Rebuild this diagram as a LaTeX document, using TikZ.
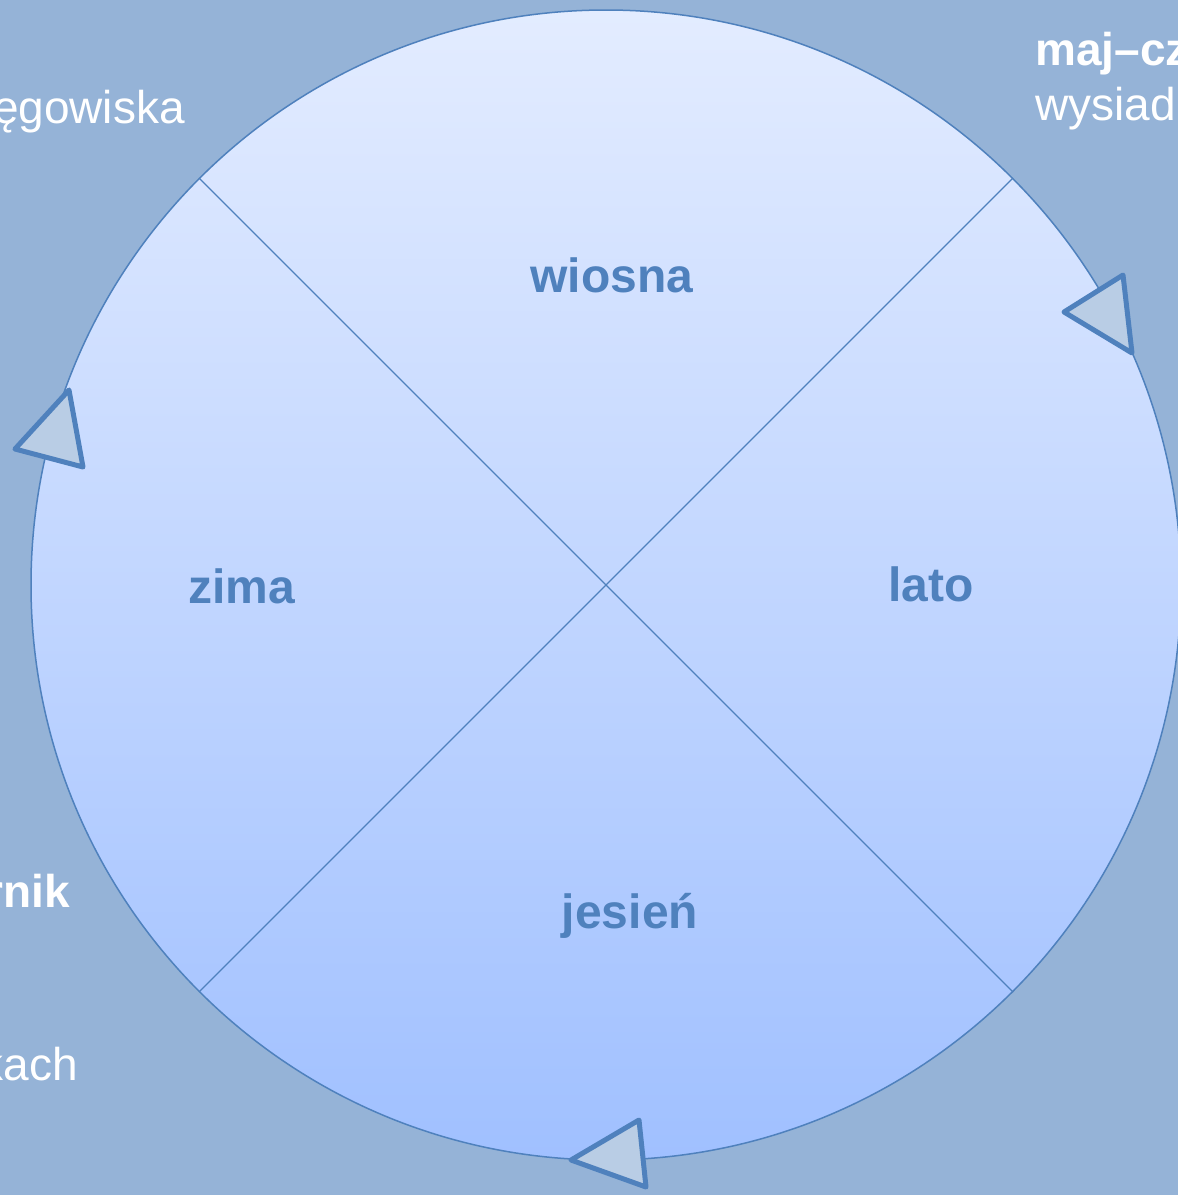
\documentclass[tikz,border=0pt]{standalone}
\usepackage{fontspec}
\setmainfont{Liberation Sans}
\usetikzlibrary{shadows}

\definecolor{slidebg}{RGB}{149,179,215}
\definecolor{accent}{RGB}{79,129,189}
\definecolor{wheeltop}{RGB}{227,236,255}
\definecolor{wheelbot}{RGB}{160,192,255}
\definecolor{tipfill}{RGB}{185,205,229}

\begin{document}
\begin{tikzpicture}[
  x=1pt, y=-1pt,
  season/.style={font=\fontsize{48}{56}\selectfont\bfseries, text=accent,
                 anchor=base, inner sep=0pt},
  outer/.style={font=\fontsize{46}{54}\selectfont, text=white, inner sep=0pt},
  outerbold/.style={outer, font=\fontsize{46}{54}\selectfont\bfseries},
  wheelstyle/.style={circle, draw=accent, line width=1.5pt, inner sep=0pt,
                     top color=wheeltop, bottom color=wheelbot,
                     minimum size=1150pt},
  spoke/.style={accent, line width=1.2pt},
  tip/.style={draw=accent, fill=tipfill, line width=5pt, line join=round,
              drop shadow={opacity=0.25, shadow xshift=2pt, shadow yshift=-2pt}},
]

\useasboundingbox (0,0) rectangle (1178,1195);
\fill[slidebg] (0,0) rectangle (1178,1195);

% the wheel and its four quarters
\node[wheelstyle] (wheel) at (606,585) {};
\draw[spoke] (wheel.135) -- (wheel.-45);
\draw[spoke] (wheel.45) -- (wheel.-135);

\node[season] (spring) at (612,292) {wiosna};
\node[season] (summer) at (931,601) {lato};
\node[season] (autumn) at (630,928) {jesień};
\node[season] (winter) at (242,603) {zima};

% arrow tips on the rim
\filldraw[tip] (1064,312) -- (1123,275) -- (1132,353) -- cycle;
\filldraw[tip] (15,449) -- (69,390) -- (83,467) -- cycle;
\filldraw[tip] (571,1160) -- (639,1120) -- (646,1187) -- cycle;

% texts cut by the slide edge
\node[outer, anchor=base east] (breed) at (185,123) {ęgowiska};
\node[outerbold, anchor=base west] (mayhdr) at (1035,65) {maj–cz};
\node[outer, anchor=base west] (brood) at (1035,120) {wysiad};
\node[outerbold, anchor=base east] (octhdr) at (70,907) {rnik};
\node[outer, anchor=base east] (flocks) at (78,1080) {kach};

\end{tikzpicture}
\end{document}
